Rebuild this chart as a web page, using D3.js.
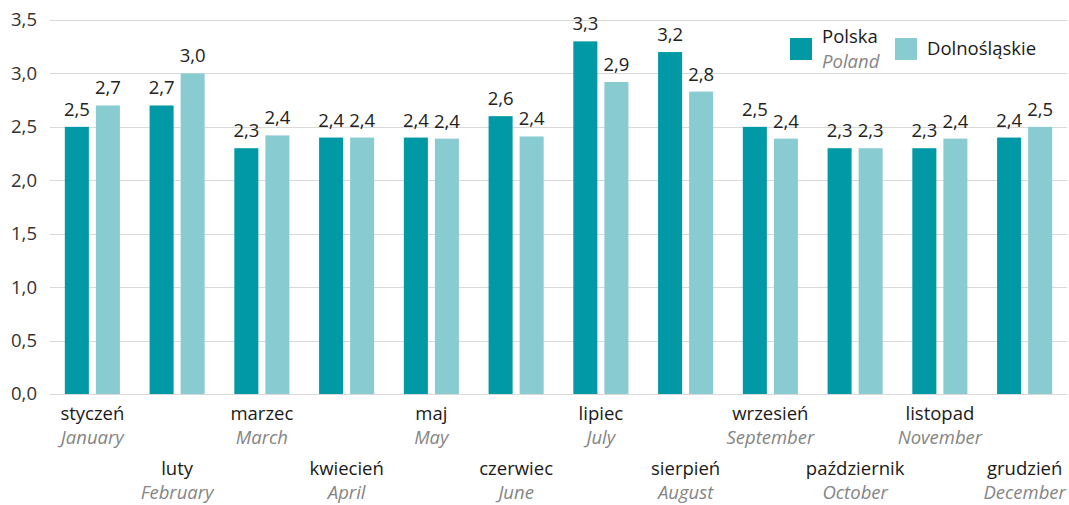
<!DOCTYPE html>
<html>
<head>
<meta charset="utf-8">
<script src="https://cdn.jsdelivr.net/npm/d3@7"></script>
<style>
  html, body { margin: 0; padding: 0; background: #fff; }
  svg { display: block; font-family: "Open Sans", "Noto Sans", sans-serif; }
</style>
</head>
<body>
<svg id="chart" width="1069" height="505"></svg>
<script>
const monthsPL = ["styczeń","luty","marzec","kwiecień","maj","czerwiec","lipiec","sierpień","wrzesień","październik","listopad","grudzień"];
const monthsEN = ["January","February","March","April","May","June","July","August","September","October","November","December"];
const seriesNames = ["Polska","Dolnośląskie"];
const seriesNamesEN = ["Poland",""];
const polska = [2.5,2.7,2.3,2.4,2.4,2.6,3.3,3.2,2.5,2.3,2.3,2.4];
const dolnoslaskie = [2.7,3.0,2.42,2.4,2.39,2.41,2.92,2.83,2.39,2.3,2.39,2.5];
const yTicks = [0,0.5,1.0,1.5,2.0,2.5,3.0,3.5];

const colors = ["#0099a5","#88ccd2"];
const FS = 18.5;
const svg = d3.select("#chart");
const W = 1069, H = 505;
const margin = {left: 50, right: 2, top: 20, bottom: 111};

const fmt = d3.formatLocale({decimal: ",", thousands: " ", grouping: [3], currency: ["", " zł"]}).format(".1f");

const x0 = d3.scaleBand().domain(monthsPL).range([margin.left, W - margin.right]).paddingInner(0.35).paddingOuter(0.175);
const x1 = d3.scaleBand().domain(seriesNames).range([0, x0.bandwidth()]).paddingInner(0.226);
const y = d3.scaleLinear().domain([0, 3.5]).range([H - margin.bottom, margin.top]);

// gridlines
svg.append("g").selectAll("line").data(yTicks).join("line")
  .attr("x1", margin.left).attr("x2", W - margin.right)
  .attr("y1", d => Math.round(y(d)) + 0.5).attr("y2", d => Math.round(y(d)) + 0.5)
  .attr("stroke", "#d9d9d9").attr("stroke-width", 1);

// y tick labels
svg.append("g").selectAll("text").data(yTicks).join("text")
  .attr("x", 37).attr("y", d => y(d)).attr("dy", "0.35em")
  .attr("text-anchor", "end").attr("font-size", FS).attr("fill", "#333")
  .text(d => fmt(d));

const data = monthsPL.map((m, i) => ({m, i, vals: [polska[i], dolnoslaskie[i]]}));

const groups = svg.append("g").selectAll("g").data(data).join("g")
  .attr("transform", d => `translate(${x0(d.m)},0)`);

groups.selectAll("rect").data(d => d.vals.map((v, k) => ({v, k}))).join("rect")
  .attr("x", d => x1(seriesNames[d.k]))
  .attr("width", x1.bandwidth())
  .attr("y", d => y(d.v))
  .attr("height", d => y(0) - y(d.v))
  .attr("fill", d => colors[d.k]);

groups.selectAll("text.val").data(d => d.vals.map((v, k) => ({v, k}))).join("text")
  .attr("class", "val")
  .attr("x", d => x1(seriesNames[d.k]) + x1.bandwidth() / 2)
  .attr("y", d => y(d.v) - 11)
  .attr("text-anchor", "middle").attr("font-size", FS).attr("fill", "#222")
  .text(d => fmt(d.v));

// x labels (alternating rows)
const xl = svg.append("g").selectAll("g").data(data).join("g")
  .attr("transform", d => `translate(${x0(d.m) + x0.bandwidth() / 2},${d.i % 2 === 0 ? 420 : 475})`);
xl.append("text").attr("text-anchor", "middle").attr("font-size", FS).attr("fill", "#1a1a1a")
  .text(d => d.m);
xl.append("text").attr("y", 24).attr("text-anchor", "middle").attr("font-size", FS)
  .attr("font-style", "italic").attr("fill", "#858585")
  .text(d => monthsEN[d.i]);

// legend
const legX = [790, 895];
const leg = svg.append("g").selectAll("g").data(seriesNames).join("g")
  .attr("transform", (d, k) => `translate(${legX[k]},38)`);
leg.append("rect").attr("width", 22).attr("height", 22).attr("fill", (d, k) => colors[k]);
leg.append("text").attr("x", 32).attr("y", (d, k) => k === 0 ? 5 : 17).attr("font-size", FS)
  .attr("fill", "#1a1a1a").text(d => d);
leg.append("text").attr("x", 32).attr("y", 30).attr("font-size", FS)
  .attr("font-style", "italic").attr("fill", "#858585").text((d, k) => seriesNamesEN[k]);
</script>
</body>
</html>
